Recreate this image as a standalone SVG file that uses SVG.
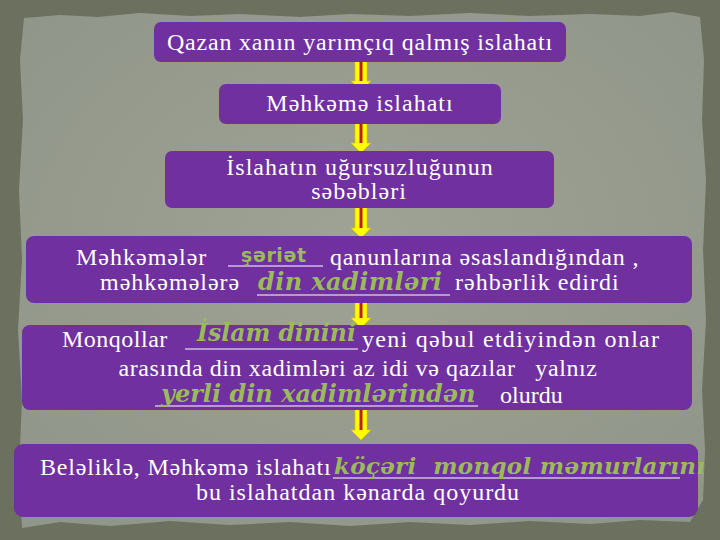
<svg xmlns="http://www.w3.org/2000/svg" width="720" height="540" viewBox="0 0 720 540">
<defs>
<radialGradient id="paper" cx="50%" cy="45%" r="65%">
<stop offset="0" stop-color="#9ea395"/>
<stop offset="1" stop-color="#91968a"/>
</radialGradient>
<style>
.box{fill:#7030a0;}
.t{fill:#ffffff;}
.g{fill:#9bbb59;}
.u{stroke:#ffffff;stroke-width:1.2;}
.ah{fill:#ffff00;stroke:#d8c000;stroke-width:0.8;}
.ar{stroke:#b81c1c;stroke-width:3;}
</style>
</defs>
<rect x="0" y="0" width="720" height="540" fill="#6c715f"/>
<path d="M24,18 L60,15 L98,17 L140,13 L190,16 L240,14 L300,17 L350,14 L410,16 L470,13 L530,16 L590,14 L640,16 L672,12 L700,17 L704,60 L702,120 L706,180 L703,250 L706,320 L702,390 L705,450 L703,500 L690,522 L640,520 L590,524 L530,521 L470,525 L410,522 L350,526 L290,522 L230,525 L170,521 L110,526 L60,522 L22,528 L19,470 L22,400 L18,330 L22,260 L19,190 L23,120 L20,60 Z" fill="url(#paper)"/>

<g id="connectors">
<g id="arrow1"><path class="ah" d="M355,60 L367,60 L367,81 L371,81 L361,91 L351,81 L355,81 Z"/><line class="ar" x1="361" y1="62" x2="361" y2="81"/></g>
<g id="arrow2"><path class="ah" d="M355,122 L367,122 L367,143 L371,143 L361,153 L351,143 L355,143 Z"/><line class="ar" x1="361" y1="124" x2="361" y2="143"/></g>
<g id="arrow3"><path class="ah" d="M355,206 L367,206 L367,228 L371,228 L361,238 L351,228 L355,228 Z"/><line class="ar" x1="361" y1="208" x2="361" y2="228"/></g>
<g id="arrow4"><path class="ah" d="M355,301 L367,301 L367,318 L371,318 L361,328 L351,318 L355,318 Z"/><line class="ar" x1="361" y1="303" x2="361" y2="318"/></g>
<g id="arrow5"><path class="ah" d="M355,408 L367,408 L367,430 L371,430 L361,440 L351,430 L355,430 Z"/><line class="ar" x1="361" y1="410" x2="361" y2="430"/></g>
</g>

<g id="node1">
<rect class="box" x="154" y="22" width="412" height="40" rx="7"/>
<text class="t" font-family="Liberation Serif, serif" font-size="24" letter-spacing="0.8" text-anchor="middle" x="360" y="50">Qazan xanın yarımçıq qalmış islahatı</text>
</g>
<g id="node2">
<rect class="box" x="219" y="84" width="282" height="40" rx="7"/>
<text class="t" font-family="Liberation Serif, serif" font-size="24" letter-spacing="1" text-anchor="middle" x="360" y="111">Məhkəmə islahatı</text>
</g>
<g id="node3">
<rect class="box" x="165" y="151" width="389" height="57" rx="7"/>
<text class="t" font-family="Liberation Serif, serif" font-size="24" letter-spacing="1" text-anchor="middle" x="360" y="175">İslahatın uğursuzluğunun</text>
<text class="t" font-family="Liberation Serif, serif" font-size="24" letter-spacing="1" text-anchor="middle" x="359" y="199">səbəbləri</text>
</g>
<g id="node4">
<rect class="box" x="26" y="236" width="666" height="67" rx="8"/>
<text class="t" font-family="Liberation Serif, serif" font-size="24" letter-spacing="1" x="76" y="265">Məhkəmələr</text>
<line class="u" x1="228" y1="266" x2="323" y2="266"/>
<text class="g" font-family="DejaVu Sans, sans-serif" font-size="19" font-weight="bold" letter-spacing="0.6" x="241" y="262">şəriət</text>
<text class="t" font-family="Liberation Serif, serif" font-size="24" letter-spacing="0.85" x="330" y="265">qanunlarına əsaslandığından ,</text>
<text class="t" font-family="Liberation Serif, serif" font-size="24" letter-spacing="1" x="100" y="290">məhkəmələrə</text>
<line class="u" x1="257" y1="295" x2="450" y2="295"/>
<text class="g" font-family="DejaVu Serif, serif" font-size="24" font-weight="bold" font-style="italic" letter-spacing="0.4" x="258" y="290">din xadimləri</text>
<text class="t" font-family="Liberation Serif, serif" font-size="24" letter-spacing="1" x="455" y="290">rəhbərlik edirdi</text>
</g>
<g id="node5">
<rect class="box" x="22" y="325" width="670" height="85" rx="8"/>
<text class="t" font-family="Liberation Serif, serif" font-size="24" letter-spacing="0.5" x="62" y="347">Monqollar</text>
<line class="u" x1="185" y1="349" x2="358" y2="349"/>
<text class="g" font-family="DejaVu Serif, serif" font-size="23.5" font-weight="bold" font-style="italic" x="197" y="341">İslam dinini</text>
<text class="t" font-family="Liberation Serif, serif" font-size="24" letter-spacing="1.3" x="362" y="347">yeni qəbul etdiyindən onlar</text>
<text class="t" font-family="Liberation Serif, serif" font-size="24" letter-spacing="0.6" text-anchor="middle" x="358" y="376" xml:space="preserve">arasında din xadimləri az idi və qazılar   yalnız</text>
<line class="u" x1="155" y1="406" x2="478" y2="406"/>
<text class="g" font-family="DejaVu Serif, serif" font-size="24" font-weight="bold" font-style="italic" x="161" y="402">yerli din xadimlərindən</text>
<text class="t" font-family="Liberation Serif, serif" font-size="24" x="500" y="403">olurdu</text>
</g>
<g id="node6">
<rect class="box" x="14" y="444" width="684" height="73" rx="9"/>
<text class="t" font-family="Liberation Serif, serif" font-size="24" letter-spacing="0.8" x="40" y="475">Beləliklə, Məhkəmə islahatı</text>
<line class="u" x1="333" y1="478" x2="680" y2="478"/>
<text class="g" font-family="DejaVu Serif, serif" font-size="23" font-weight="bold" font-style="italic" letter-spacing="0.3" x="334" y="474" xml:space="preserve">köçəri  monqol məmurlarını</text>
<text class="t" font-family="Liberation Serif, serif" font-size="24" letter-spacing="1" text-anchor="middle" x="358" y="500">bu islahatdan kənarda qoyurdu</text>
</g>
</svg>
